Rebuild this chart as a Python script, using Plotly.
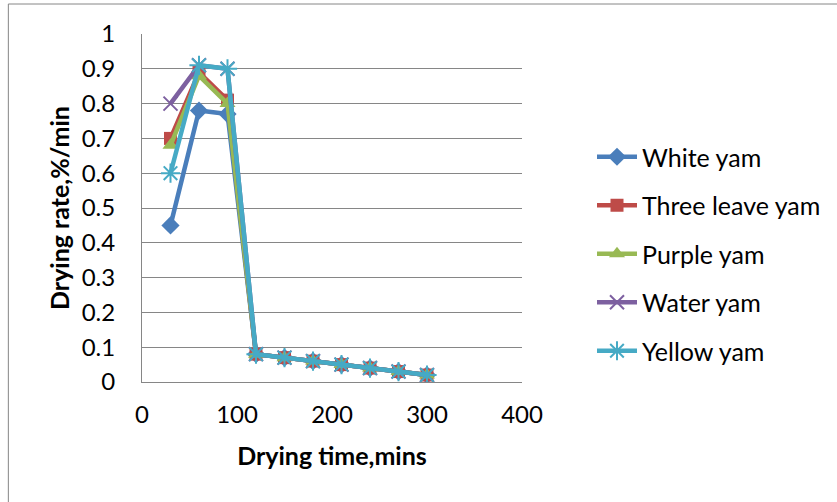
import plotly.graph_objects as go

# Drying time (minutes)
drying_time = [30, 60, 90, 120, 150, 180, 210, 240, 270, 300]

# Drying rate (%/min) for each yam variety
white_yam = [0.45, 0.78, 0.77, 0.08, 0.07, 0.06, 0.05, 0.04, 0.03, 0.02]
three_leave_yam = [0.70, 0.89, 0.81, 0.08, 0.07, 0.06, 0.05, 0.04, 0.03, 0.02]
purple_yam = [0.68, 0.88, 0.80, 0.08, 0.07, 0.06, 0.05, 0.04, 0.03, 0.02]
water_yam = [0.80, 0.91, 0.90, 0.08, 0.07, 0.06, 0.05, 0.04, 0.03, 0.02]
yellow_yam = [0.60, 0.91, 0.90, 0.08, 0.07, 0.06, 0.05, 0.04, 0.03, 0.02]

series = [
    ("White yam", white_yam, "#4A7EBB", "diamond", 14, 0),
    ("Three leave yam", three_leave_yam, "#BE4B48", "square", 13, 0),
    ("Purple yam", purple_yam, "#98B954", "triangle-up", 14, 0),
    ("Water yam", water_yam, "#7D60A0", "x-thin-open", 14, 2),
    ("Yellow yam", yellow_yam, "#46AAC5", "asterisk-open", 16, 2),
]

W, H = 837, 502
L, R, T, B = 142, 523, 34, 382  # plot area in pixels

fig = go.Figure()
for i, (name, vals, color, sym, size, lw) in enumerate(series):
    fig.add_trace(go.Scatter(
        x=drying_time, y=vals, name=name, mode="lines+markers",
        legendgroup=f"g{i}",
        line=dict(color=color, width=4.5),
        marker=dict(symbol=sym, size=size, color=color,
                    line=dict(color=color, width=lw)),
    ))

FONT = "Lato, Carlito, sans-serif"
axis_font = dict(family=FONT, size=24, color="#000000")
title_font = dict(family=FONT, size=25, color="#000000")

fig.update_layout(
    width=W, height=H,
    margin=dict(l=L, r=W - R, t=T, b=H - B, pad=0),
    paper_bgcolor="white", plot_bgcolor="white",
    font=axis_font,
    showlegend=True,
    legend=dict(
        x=(592 - L) / (R - L), y=(B - 134) / (B - T),
        xanchor="left", yanchor="top",
        font=dict(family=FONT, size=25, color="#000000"),
        tracegroupgap=13, bgcolor="rgba(0,0,0,0)",
        itemwidth=40,
    ),
    xaxis=dict(
        range=[0, 400], tickvals=[0, 100, 200, 300, 400],
        showgrid=False, zeroline=False,
        showline=True, linecolor="#868686", linewidth=1,
        ticks="outside", ticklen=11, tickcolor="rgba(0,0,0,0)",
        tickfont=axis_font,
        title=dict(text="<b>Drying time,mins</b>", font=title_font, standoff=20),
    ),
    yaxis=dict(
        range=[0, 1], tickvals=[i / 10 for i in range(11)],
        ticktext=["0", "0.1", "0.2", "0.3", "0.4", "0.5", "0.6", "0.7", "0.8", "0.9", "1"],
        showgrid=True, gridcolor="#868686", gridwidth=1,
        zeroline=False,
        showline=True, linecolor="#868686", linewidth=1,
        ticks="outside", ticklen=21, tickcolor="rgba(0,0,0,0)",
        tickfont=axis_font,
        title=dict(text="<b>Drying rate,%/min</b>", font=title_font, standoff=4),
    ),
)

# Chart frame (top and left edges)
def px_x(p):
    return (p - L) / (R - L)

def px_y(p):
    return (B - p) / (B - T)

frame = dict(color="#868686", width=1)
fig.add_shape(type="line", xref="paper", yref="paper",
              x0=px_x(8), x1=px_x(W + 5), y0=px_y(4), y1=px_y(4), line=frame)
fig.add_shape(type="line", xref="paper", yref="paper",
              x0=px_x(8), x1=px_x(8), y0=px_y(4), y1=px_y(H + 5), line=frame)

fig.write_html("out.html")
